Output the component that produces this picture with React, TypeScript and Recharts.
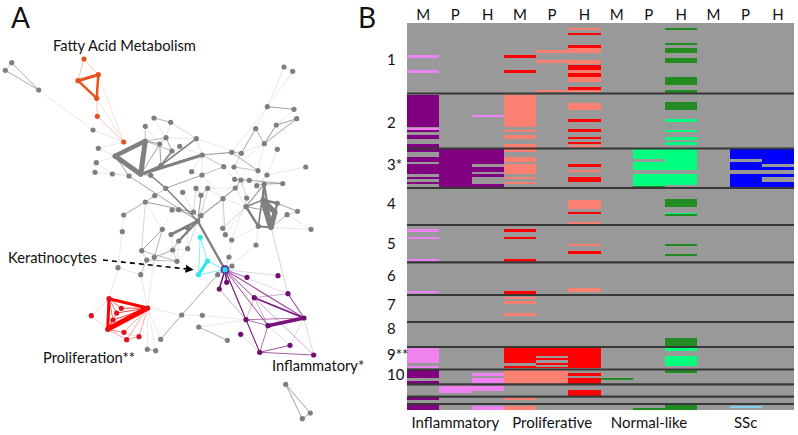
import {
  ComposedChart,
  ReferenceArea,
  ReferenceLine,
  Scatter,
  XAxis,
  YAxis,
} from "recharts";

const FONT = "Lato, sans-serif";

type Node = { id: string; x: number; y: number };
type Edge = [string, string, number];
type Strip = [number, number, 0 | 1];

const toNodes = (rows: [string, number, number][]): Node[] =>
  rows.map(([id, x, y]) => ({ id, x, y }));

// network nodes
const grayNodes = toNodes([
  ["t1", 11.7, 62.7], ["t2", 5.3, 70.3], ["t3", 38.7, 90],
  ["a1", 93, 130], ["a2", 98.3, 148.3], ["a3", 96.3, 162.7], ["a4", 95, 172.3], ["a5", 112.3, 174],
  ["a6", 115, 156], ["a7", 129, 176], ["a8", 140.7, 174.3], ["a9", 145.3, 141], ["a10", 150.7, 175.3],
  ["b1", 154, 118], ["b2", 170.7, 122.3], ["b3", 145.3, 126.3], ["b4", 166, 137.7], ["b5", 196.3, 138.7],
  ["b6", 159.7, 144], ["b7", 179.7, 146.3], ["b8", 172, 151], ["b9", 161, 165.3], ["b10", 202.3, 155],
  ["b11", 191.7, 171.7], ["b12", 202, 175],
  ["c1", 165.7, 188.3], ["c2", 182.7, 192.3], ["c3", 154.7, 195.7], ["c4", 145.3, 202], ["c5", 172, 210],
  ["c6", 178.7, 209.7], ["c7", 193.5, 212], ["c8", 201, 215.7], ["c9", 197.7, 221], ["c10", 196, 188.3],
  ["c11", 207.7, 188.3], ["c12", 201, 195.3], ["c13", 123.7, 215], ["c14", 122.3, 231.7], ["c15", 162.3, 229.3],
  ["c16", 171, 234.5], ["c17", 187.5, 227.7], ["c18", 178.7, 241],
  ["d1", 141.7, 250.7], ["d2", 172.7, 250], ["d3", 187.7, 248.7], ["d4", 146.7, 260], ["d5", 154.3, 257.3],
  ["d6", 177, 261.3], ["d7", 118, 267.7], ["d8", 140.7, 274.7], ["d9", 229, 257], ["d10", 232, 266],
  ["d11", 217.7, 274.7], ["d12", 181.7, 315], ["d13", 198.7, 327], ["d14", 202.3, 315.3], ["d15", 227.3, 340.3],
  ["d16", 160.7, 339.3], ["d17", 147.3, 349.3], ["d18", 155.7, 350.7], ["d19", 222.7, 228.3], ["d20", 225.3, 234.7],
  ["d21", 231.7, 240], ["d22", 256, 245],
  ["e1", 284, 67], ["e2", 292.7, 71.3], ["e3", 267.3, 106.7], ["e4", 294, 109.3], ["e5", 296.7, 118.7],
  ["e6", 276.3, 125], ["e7", 255.7, 128.7], ["e8", 264.3, 143.7], ["e9", 277.3, 149.3], ["e10", 231.7, 152.3],
  ["e11", 241.3, 153.3], ["e12", 223.7, 166.7], ["e13", 234, 167], ["e14", 305.7, 167], ["e15", 258, 170.7],
  ["e16", 267, 175], ["e17", 234.7, 179.3], ["e18", 241, 180], ["e19", 249.3, 180.3], ["e20", 256.7, 185.7],
  ["e21", 282.7, 183.5], ["e22", 264.2, 184], ["e23", 235.3, 188], ["e24", 223, 198.7], ["e25", 246.7, 198],
  ["e26", 263, 200], ["e27", 277.3, 203.3], ["e28", 246, 206.7], ["e29", 297.5, 211.3], ["e30", 287, 214.7],
  ["e31", 275, 212.3], ["e32", 258.3, 226.3], ["e33", 271, 227.5], ["e34", 311, 229.3],
  ["f1", 285.7, 384.3], ["f2", 310.3, 413], ["f3", 302.3, 418.7],
]);
const orangeNodes = toNodes([
  ["o1", 84, 59], ["o2", 98.3, 74.7], ["o3", 78, 80.7], ["o4", 96.7, 98.3], ["o5", 97.3, 116.3], ["o6", 123.7, 142],
]);
const redNodes = toNodes([
  ["r1", 109, 298.7], ["r2", 147.7, 308], ["r3", 107.7, 329.3], ["r4", 121.3, 308.3], ["r5", 116.7, 313],
  ["r6", 113, 320], ["r7", 91.3, 315.7], ["r8", 124, 332.3], ["r9", 139, 336.7], ["r10", 126.7, 339.7],
]);
const cyanNodes = toNodes([["k1", 200.3, 237.3], ["k2", 207.5, 261], ["k3", 198.5, 274.7]]);
const hubNodes = toNodes([["hub", 225, 269.7]]);
const purpleNodes = toNodes([
  ["p1", 247, 277.3], ["p2", 278, 275.7], ["p3", 226.7, 282.3], ["p4", 219.3, 289], ["p5", 288, 293.7],
  ["p6", 254.3, 297.7], ["p7", 304, 318], ["p8", 246, 319.7], ["p9", 268, 325.7], ["p10", 240.7, 334.3],
  ["p11", 290, 345.3], ["p12", 259.7, 352.3], ["p13", 313.7, 355],
]);

const nodeById = new Map(
  [...grayNodes, ...orangeNodes, ...redNodes, ...cyanNodes, ...hubNodes, ...purpleNodes].map((n) => [n.id, n])
);

const grayEdges: Edge[] = [
  ["t1", "t3", 0.9], ["t2", "t3", 0.9], ["t1", "t2", 0.5], ["t3", "a1", 0.3], ["a1", "o6", 0.3],
  ["a6", "a9", 4.5], ["a6", "a8", 5], ["a9", "a8", 5], ["a8", "b10", 3], ["a8", "b9", 2], ["a6", "a7", 1],
  ["b9", "b5", 1.6], ["b9", "b8", 1.6], ["a9", "b6", 1.2], ["b3", "a9", 0.7], ["b1", "b2", 0.8], ["b2", "b5", 0.5],
  ["b4", "b8", 0.9], ["b6", "b9", 1], ["b6", "a8", 1], ["b4", "b6", 0.7], ["a9", "b4", 0.7], ["a9", "b8", 0.7],
  ["a7", "c9", 1], ["a10", "c1", 1.5], ["c1", "c9", 1.5], ["a8", "a10", 1], ["c4", "c7", 1.1], ["c4", "c3", 0.7],
  ["c3", "c1", 0.5], ["c1", "b12", 1], ["b12", "e12", 0.7], ["c13", "c4", 0.8], ["c9", "c8", 1.5], ["c9", "c16", 3],
  ["c9", "c18", 2.5], ["c9", "hub", 2.4], ["c15", "d1", 1], ["c15", "d5", 0.8], ["d1", "d6", 0.7], ["d4", "d6", 0.7],
  ["d5", "d2", 0.8], ["d8", "d4", 0.7], ["d1", "d4", 0.5], ["d2", "c18", 0.8], ["d2", "d6", 0.5], ["d3", "c9", 0.6],
  ["c9", "c12", 1.1], ["c12", "c10", 0.8], ["c12", "c11", 0.8], ["c8", "e24", 1.1], ["e24", "e23", 1.1], ["e23", "e18", 1],
  ["c8", "c5", 0.5], ["b10", "e10", 1.2], ["e10", "e11", 0.8], ["e11", "e7", 1], ["e7", "e8", 0.8], ["e8", "e6", 1],
  ["e6", "e5", 1], ["e8", "e5", 1], ["e3", "e4", 1], ["e3", "e10", 0.3], ["e1", "e2", 0.4], ["e1", "e3", 0.2], ["e2", "e3", 0.2],
  ["e10", "e15", 0.9], ["e11", "e8", 0.4], ["e12", "b10", 0.7], ["e13", "e11", 0.5], ["e16", "e14", 0.25], ["e16", "e20", 0.5],
  ["e15", "e13", 0.5], ["e22", "e26", 2.5], ["e22", "e33", 2], ["e22", "e32", 1.6], ["e22", "e28", 1.2], ["e26", "e33", 6],
  ["e26", "e31", 5], ["e31", "e33", 5], ["e31", "e27", 2], ["e26", "e27", 2.5], ["e27", "e33", 2], ["e28", "e32", 2.5],
  ["e32", "e33", 2], ["e28", "e26", 1.5], ["e28", "e31", 1], ["e25", "e28", 0.6], ["e27", "e29", 1], ["e29", "e30", 0.5],
  ["e33", "e30", 0.7], ["e22", "e21", 1.2], ["e20", "e22", 0.8], ["e18", "e19", 0.8], ["e19", "e21", 0.9], ["e17", "e18", 0.8],
  ["e34", "e33", 0.25], ["e24", "d20", 0.5], ["e28", "d19", 0.5], ["d19", "d20", 0.4], ["d20", "d21", 0.4], ["e25", "e18", 0.5],
  ["d17", "d18", 0.8], ["d16", "d12", 0.9], ["d12", "d11", 0.9], ["d11", "hub", 1], ["d13", "d15", 0.8], ["d14", "d12", 0.3],
  ["d12", "r2", 0.3], ["d7", "r1", 0.25], ["r2", "d8", 0.25], ["r2", "d17", 0.4], ["r2", "d18", 0.4], ["r2", "d16", 0.4],
  ["f1", "f2", 1], ["f1", "f3", 1], ["f2", "f3", 1], ["d14", "p8", 0.25], ["d13", "p8", 0.25], ["c14", "d7", 0.25], ["d9", "hub", 0.6], ["d10", "hub", 0.6],
  ["d22", "hub", 0.3], ["e33", "p5", 0.25], ["e32", "d22", 0.3], ["d7", "d8", 0.3], ["d8", "c18", 0.3], ["r2", "d5", 0.25], ["c14", "c13", 0.3],
  // faint web in the middle
  ["a2", "a6", 0.3], ["a3", "a6", 0.3], ["a4", "a5", 0.3], ["a5", "a7", 0.3], ["a5", "a8", 0.25], ["a3", "a5", 0.25], ["a2", "o6", 0.25],
  ["b3", "b6", 0.4], ["b1", "b4", 0.4], ["b2", "b4", 0.4], ["b4", "b5", 0.4], ["b7", "b9", 0.4], ["b7", "b10", 0.3], ["b5", "b10", 0.4],
  ["b10", "b11", 0.4], ["b11", "b12", 0.3], ["b10", "b12", 0.4], ["b12", "c10", 0.3], ["c1", "c4", 0.3], ["c2", "c7", 0.4], ["c10", "c7", 0.5],
  ["c11", "c8", 0.5], ["c11", "e24", 0.3], ["c11", "e23", 0.4], ["c12", "c8", 0.4], ["c6", "c7", 0.4], ["c5", "c8", 0.3], ["c5", "c6", 0.4],
  ["c4", "c13", 0.3], ["c4", "d1", 0.4], ["c4", "c15", 0.4], ["c15", "c5", 0.3], ["c16", "d2", 0.4], ["c17", "d3", 0.3], ["c18", "d6", 0.4],
  ["d3", "d6", 0.4], ["d3", "d2", 0.3], ["d1", "c4", 0.3], ["e12", "e13", 0.3], ["e12", "e17", 0.4], ["e13", "e15", 0.3], ["e17", "e19", 0.4],
  ["e19", "e23", 0.4], ["e24", "e17", 0.3], ["e18", "e13", 0.3], ["e24", "d19", 0.4], ["e24", "b12", 0.3], ["e15", "e20", 0.4], ["e9", "e16", 0.35],
  ["e8", "e13", 0.4], ["e8", "e15", 0.3], ["e23", "e28", 0.3], ["d20", "e28", 0.3], ["d21", "e25", 0.3], ["e28", "e24", 0.3], ["d21", "d9", 0.3],
  ["e32", "d21", 0.3], ["e33", "p5", 0.2], ["e30", "e34", 0.2], ["e3", "e7", 0.3], ["e6", "e8", 0.3], ["e4", "e6", 0.25], ["b5", "e11", 0.3],
];
const orangeEdges: Edge[] = [
  ["o3", "o2", 3], ["o3", "o4", 2.5], ["o2", "o4", 2.5], ["o1", "o3", 0.6], ["o1", "o2", 0.6],
  ["o4", "o5", 0.5], ["o2", "o6", 0.4], ["o5", "o6", 0.5], ["o4", "o6", 0.3],
];
const redEdges: Edge[] = [
  ["r1", "r2", 3], ["r1", "r3", 3], ["r2", "r3", 5], ["r1", "r4", 0.8], ["r1", "r5", 0.8], ["r1", "r6", 0.8],
  ["r3", "r6", 0.8], ["r3", "r5", 0.8], ["r2", "r4", 1], ["r2", "r5", 1], ["r2", "r6", 1], ["r7", "r1", 0.4], ["r7", "r3", 0.4],
  ["r3", "r8", 0.5], ["r3", "r10", 0.5], ["r8", "r2", 0.5], ["r9", "r2", 0.5], ["r10", "r2", 0.5], ["r10", "r9", 0.5], ["r3", "r9", 0.4],
];
const cyanEdges: Edge[] = [
  ["k2", "k3", 3], ["k1", "k2", 0.8], ["k1", "k3", 0.8], ["k2", "hub", 0.8], ["k3", "hub", 0.8],
];
const purpleEdges: Edge[] = [
  ["hub", "p3", 1.5], ["hub", "p4", 1.5], ["hub", "p1", 0.7], ["hub", "p6", 1], ["hub", "p7", 1.2], ["hub", "p8", 1.1],
  ["hub", "p12", 1], ["hub", "p5", 0.4], ["hub", "p9", 1], ["p8", "p9", 0.8], ["p6", "p7", 1.5], ["p7", "p9", 3.5], ["p5", "p7", 1.1],
  ["p6", "p5", 0.5], ["p6", "p9", 0.5], ["p8", "p7", 0.8], ["p9", "p12", 0.8], ["p12", "p11", 1], ["p12", "p13", 0.9],
  ["p8", "p12", 1], ["p9", "p11", 0.3], ["p6", "p13", 0.6], ["p7", "p13", 0.4], ["p4", "p8", 0.5], ["p10", "p12", 0.4],
  ["p2", "hub", 0.3], ["p8", "p6", 0.5], ["p11", "p7", 0.3],
];

const networkLabels = [
  { text: "Fatty Acid Metabolism", x: 53, y: 51 },
  { text: "Keratinocytes", x: 8, y: 263 },
  { text: "Proliferation**", x: 43, y: 363 },
  { text: "Inflammatory*", x: 272, y: 371 },
];

// heatmap strips per column, in gene rows from the top: [start, end, shade]
const inflamM: Strip[] = [
  [32, 35, 1], [46.7, 49.7, 1], [72, 103.7, 0], [105, 106.5, 1], [107, 109.3, 0], [111.7, 116.3, 0], [121.3, 125, 0],
  [126, 129.3, 0], [134, 138.7, 0], [141.3, 151.3, 0], [153.7, 156, 0], [158.7, 161.3, 0], [163.7, 164.3, 0],
  [206, 208.7, 1], [213.7, 216, 1], [236, 238.3, 1], [268, 270.3, 1], [325.3, 340.3, 1], [342.7, 345.3, 1],
  [347.3, 355.3, 0], [357.7, 361.3, 0], [373.3, 377, 0], [381.3, 387, 0],
];
const inflamP: Strip[] = [[126, 164, 0], [363.3, 370.3, 1]];
const inflamH: Strip[] = [
  [91.7, 94.3, 1], [126, 141.3, 0], [144, 148.7, 0], [151.3, 153.7, 0], [161.3, 164, 0],
  [350, 352.7, 1], [355.3, 360.7, 1], [363.3, 368, 1], [382.7, 387, 1],
];
const prolifM: Strip[] = [
  [32, 34.7, 0], [46.7, 49.7, 0], [72, 103.7, 1], [106.7, 109.3, 1], [111.7, 116.3, 1], [121.3, 125, 1], [126, 129.3, 1],
  [134, 138.7, 1], [141.3, 151.3, 1], [153.7, 156.3, 1], [158.7, 161.3, 1], [206, 208.7, 0], [213.7, 216, 0],
  [236, 239.3, 0], [268, 271.3, 0], [274, 276, 1], [278, 280.7, 1], [290.3, 293, 1], [325.3, 340.3, 0], [342.7, 345.3, 0],
  [347.3, 361.3, 1], [375.3, 377.3, 1], [382.7, 387, 1],
];
const prolifP: Strip[] = [
  [27, 29.7, 1], [37, 39.7, 1], [67, 69, 1], [325.3, 332.7, 0], [335.3, 337.3, 0], [339.7, 342, 0], [344.3, 345.3, 0], [347.3, 361.3, 1],
];
const prolifH: Strip[] = [
  [5, 7, 1], [9.7, 12.3, 0], [21.7, 25, 0], [25, 29.7, 1], [37, 41, 1], [42, 47, 0], [47, 49.7, 1], [49.7, 54.3, 0], [54.3, 59, 1],
  [64.3, 67, 0], [67, 69, 1], [79.7, 87, 1], [96.3, 99, 0], [106.3, 109, 0], [113.7, 116.3, 0], [118.7, 121.3, 0], [122, 123.7, 1],
  [141.3, 144, 0], [146.7, 148.7, 1], [153.7, 158.7, 0], [177, 186, 1], [188.7, 191.3, 0], [198.7, 201, 1], [220.7, 223, 1],
  [228, 231.3, 0], [265.3, 268.7, 1], [325.3, 345.3, 0], [350, 352.7, 0], [355.3, 360.7, 0], [367.3, 372.7, 0],
];
const normalM: Strip[] = [[355.3, 357, 1]];
const normalP: Strip[] = [[126, 136, 0], [138.7, 147, 0], [151.3, 163, 0], [163, 165, 1], [385.3, 387, 1]];
const normalH: Strip[] = [
  [5, 7, 1], [19.7, 21.7, 1], [24.7, 29.7, 1], [34.7, 39.7, 1], [54.3, 61.7, 1], [67, 70, 1], [79.3, 87, 1], [96.3, 99, 0],
  [106.7, 109.3, 0], [113.7, 117, 0], [118.7, 122, 0], [126, 147, 0], [151.3, 162, 0], [176.3, 183.7, 1], [189.7, 191.3, 0],
  [191.3, 193.3, 1], [221, 223, 1], [231, 233, 1], [315.3, 325.3, 1], [325.3, 327.7, 0], [333, 343, 0], [347, 350, 1], [382, 387, 1],
];
const sscM: Strip[] = [];
const sscP: Strip[] = [[126, 136, 0], [138.7, 147, 0], [151.3, 165, 0], [382.7, 384.7, 1]];
const sscH: Strip[] = [[126, 141.3, 0], [143.7, 147, 0], [151.3, 153.7, 0], [158.7, 164, 0]];

const heatColumns = [
  inflamM, inflamP, inflamH, prolifM, prolifP, prolifH, normalM, normalP, normalH, sscM, sscP, sscH,
];
const columnTicks = ["M", "P", "H", "M", "P", "H", "M", "P", "H", "M", "P", "H"];
const groupNames = ["Inflammatory", "Proliferative", "Normal-like", "SSc"];
const groupShades = [
  ["#800080", "#ee82ee"],
  ["#ff0000", "#fa8072"],
  ["#00ff7f", "#228b22"],
  ["#0000ff", "#87ceeb"],
];
const clusterBreaks = [70.5, 125.5, 165, 202, 239.3, 272, 299, 324, 346.5, 361.3, 373.7, 381];
const clusterLabels = ["1", "2", "3*", "4", "5", "6", "7", "8", "9**", "10"];
const clusterLabelRows = [37, 100, 142, 181, 221, 253, 282, 306, 332, 352];

const columnPoints = columnTicks.map((label, i) => ({ col: i + 0.5, row: 0, label }));

const edgeOpacity = (w: number) => (w >= 1.5 ? 1 : w >= 0.7 ? 0.75 : w >= 0.45 ? 0.5 : 0.25);

function edgeLines(edges: Edge[], color: string) {
  return edges.map(([a, b, w], i) => {
    const from = nodeById.get(a)!;
    const to = nodeById.get(b)!;
    return (
      <ReferenceLine
        key={`${color}-${i}`}
        segment={[
          { x: from.x, y: from.y },
          { x: to.x, y: to.y },
        ]}
        stroke={color}
        strokeWidth={Math.max(w, 0.7)}
        strokeOpacity={edgeOpacity(w)}
        ifOverflow="visible"
      />
    );
  });
}

const dot = (r: number) => (props: any) =>
  <circle cx={props.cx} cy={props.cy} r={r} fill={props.fill} />;

function Network() {
  return (
    <ComposedChart
      width={380}
      height={435}
      margin={{ top: 0, right: 0, bottom: 0, left: 0 }}
      style={{ position: "absolute", left: 0, top: 0 }}
    >
      <defs>
        <marker id="arrowHead" viewBox="0 0 10 10" refX="8" refY="5" markerWidth="5" markerHeight="5" orient="auto">
          <path d="M0,0 L10,5 L0,10 z" fill="#000" />
        </marker>
      </defs>
      <XAxis type="number" dataKey="x" domain={[0, 380]} allowDataOverflow hide />
      <YAxis type="number" dataKey="y" domain={[0, 435]} allowDataOverflow reversed hide />
      {edgeLines(grayEdges, "#808080")}
      {edgeLines(orangeEdges, "#e8541f")}
      {edgeLines(redEdges, "#ff0000")}
      {edgeLines(cyanEdges, "#22e6e6")}
      {edgeLines(purpleEdges, "#7b0f7b")}
      <ReferenceLine
        segment={[
          { x: 103, y: 260 },
          { x: 192, y: 269.5 },
        ]}
        stroke="#000"
        strokeWidth={1.6}
        strokeDasharray="5 4"
        markerEnd="url(#arrowHead)"
        ifOverflow="visible"
      />
      <Scatter data={grayNodes} fill="#7f7f7f" shape={dot(2.6)} isAnimationActive={false} />
      <Scatter data={orangeNodes} fill="#e64f1e" shape={dot(2.6)} isAnimationActive={false} />
      <Scatter data={redNodes} fill="#e01020" shape={dot(2.6)} isAnimationActive={false} />
      <Scatter data={cyanNodes} fill="#33e6e6" shape={dot(2.6)} isAnimationActive={false} />
      <Scatter data={purpleNodes} fill="#6f0f70" shape={dot(2.6)} isAnimationActive={false} />
      <Scatter
        data={hubNodes}
        fill="#2fd8f0"
        isAnimationActive={false}
        shape={(p: any) => <circle cx={p.cx} cy={p.cy} r={3.6} fill={p.fill} stroke="#5a2ca0" strokeWidth={1.7} />}
      />
      {networkLabels.map((l) => (
        <text key={l.text} x={l.x} y={l.y} fontFamily={FONT} fontSize={14.7} fill="#111">
          {l.text}
        </text>
      ))}
      <text x={11} y={28} fontFamily={FONT} fontSize={28} fill="#111">
        A
      </text>
      <text x={358} y={28} fontFamily={FONT} fontSize={28} fill="#111">
        B
      </text>
    </ComposedChart>
  );
}

function Heatmap() {
  return (
    <ComposedChart
      width={418}
      height={435}
      data={columnPoints}
      margin={{ top: 0, right: 4, bottom: 0, left: 0 }}
      style={{ position: "absolute", left: 380, top: 0 }}
    >
      <XAxis
        xAxisId="cols"
        dataKey="col"
        orientation="top"
        type="number"
        domain={[0, 12]}
        allowDataOverflow
        height={23}
        ticks={columnPoints.map((p) => p.col)}
        tickFormatter={(v: number) => columnTicks[Math.floor(v)]}
        interval={0}
        axisLine={false}
        tickLine={false}
        tickSize={0}
        tickMargin={3}
        tick={{ fontFamily: FONT, fontSize: 15, fill: "#111" }}
      />
      <XAxis
        xAxisId="groups"
        dataKey="col"
        orientation="bottom"
        type="number"
        domain={[0, 12]}
        allowDataOverflow
        height={25}
        ticks={groupNames.map((_, i) => i * 3 + 1.5)}
        tickFormatter={(v: number) => groupNames[Math.floor(v / 3)]}
        interval={0}
        axisLine={false}
        tickLine={false}
        tickSize={0}
        tickMargin={7}
        tick={{ fontFamily: FONT, fontSize: 15, fill: "#111" }}
      />
      <YAxis
        type="number"
        domain={[0, 387]}
        allowDataOverflow
        reversed
        width={27}
        ticks={clusterLabelRows}
        interval={0}
        axisLine={false}
        tickLine={false}
        tick={(p: any) => (
          <text x={7} y={p.y + 5} fontFamily={FONT} fontSize={15} fill="#111">
            {clusterLabels[clusterLabelRows.indexOf(p.payload.value)]}
          </text>
        )}
      />
      <ReferenceArea xAxisId="cols" x1={0} x2={12} y1={0} y2={387} fill="#999999" fillOpacity={1} stroke="none" ifOverflow="visible" />
      {heatColumns.map((strips, col) =>
        strips.map(([start, end, shade], i) => (
          <ReferenceArea
            key={`${col}-${i}`}
            xAxisId="cols"
            x1={col}
            x2={col + 1}
            y1={start}
            y2={end}
            fill={groupShades[Math.floor(col / 3)][shade]}
            fillOpacity={1}
            stroke="none"
            shapeRendering="crispEdges"
            ifOverflow="visible"
          />
        ))
      )}
      {clusterBreaks.map((row) => (
        <ReferenceLine key={row} xAxisId="cols" y={row} stroke="#383838" strokeWidth={2.2} ifOverflow="visible" />
      ))}
    </ComposedChart>
  );
}

export default function App() {
  return (
    <div style={{ position: "absolute", left: 0, top: 0, width: 798, height: 435, background: "#fff", overflow: "hidden" }}>
      <Network />
      <Heatmap />
    </div>
  );
}
